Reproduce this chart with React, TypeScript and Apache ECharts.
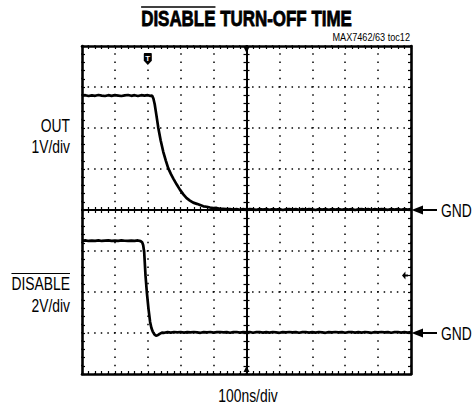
import React, { useEffect, useRef } from "react";
import * as echarts from "echarts";

// ---------- text ----------
const titleText = "DISABLE TURN-OFF TIME";
const overlinedWord = "DISABLE";
const partLabel = "MAX7462/63 toc12";
const timeScaleLabel = "100ns/div";
const outLabels = ["OUT", "1V/div"];
const disableLabels = ["DISABLE", "2V/div"];
const gndLabel = "GND";

// ---------- scales ----------
const timeMin = -500; // ns, 100 ns/div, 10 div
const timeMax = 500;
const timeStep = 100;
const outMin = -4; // V, 1 V/div, 8 div
const outMax = 4;
const outStep = 1;
const disMin = -2; // V, 2 V/div, 8 div
const disMax = 14;
const disStep = 2;

const triggerTime = -300; // ns
const triggerMarkLevel = 3.68; // V on OUT scale (marker near top)
const disableTrigLevel = 2.8; // V on DISABLE scale

// ---------- traces: [time ns, volts] ----------
const outTrace: [number, number][] = [
  [-500, 2.79], [-490, 2.8], [-480, 2.78], [-470, 2.795], [-460, 2.785], [-450, 2.805], [-440, 2.79],
  [-430, 2.78], [-420, 2.8], [-410, 2.785], [-400, 2.8], [-390, 2.79], [-380, 2.78], [-370, 2.795],
  [-360, 2.805], [-350, 2.785], [-340, 2.8], [-330, 2.78], [-320, 2.8], [-310, 2.79], [-300, 2.8],
  [-292, 2.785], [-287, 2.79],
  [-283, 2.72], [-279, 2.58], [-274, 2.32], [-268, 2.0], [-261, 1.7], [-253, 1.42], [-245, 1.2],
  [-238, 1.02], [-230, 0.88], [-222, 0.76], [-212, 0.62], [-202, 0.49], [-192, 0.38], [-182, 0.29],
  [-172, 0.23], [-162, 0.18], [-151, 0.15], [-141, 0.12], [-131, 0.09], [-121, 0.08], [-111, 0.06],
  [-101, 0.045], [-91, 0.05], [-81, 0.03], [-71, 0.03], [-61, 0.02],
  [-50, 0.025], [-40, 0.01], [-30, 0.02], [-20, 0.005], [-10, 0.02], [0, 0.01], [10, 0.025], [20, 0.015],
  [30, 0.005], [40, 0.02], [50, 0.01], [60, 0.025], [70, 0.005], [80, 0.02], [90, 0.01], [100, 0.02],
  [110, 0.0], [120, 0.015], [130, 0.025], [140, 0.01], [150, 0.02], [160, 0.005], [170, 0.02],
  [180, 0.01], [190, 0.025], [200, 0.015], [210, 0.0], [220, 0.02], [230, 0.01], [240, 0.025],
  [250, 0.005], [260, 0.02], [270, 0.01], [280, 0.02], [290, 0.005], [300, 0.025], [310, 0.01],
  [320, 0.02], [330, 0.0], [340, 0.015], [350, 0.025], [360, 0.01], [370, 0.02], [380, 0.005],
  [390, 0.02], [400, 0.01], [410, 0.025], [420, 0.015], [430, 0.005], [440, 0.02], [450, 0.01],
  [460, 0.025], [470, 0.005], [480, 0.02], [490, 0.01], [500, 0.02],
];

const disableTrace: [number, number][] = [
  [-500, 4.5], [-490, 4.52], [-480, 4.49], [-470, 4.51], [-460, 4.495], [-450, 4.52], [-440, 4.49],
  [-430, 4.505], [-420, 4.52], [-410, 4.495], [-400, 4.51], [-390, 4.49], [-380, 4.515], [-370, 4.5],
  [-360, 4.49], [-350, 4.51], [-340, 4.495], [-330, 4.515], [-322, 4.48], [-317, 4.42], [-314, 4.28],
  [-311, 3.95], [-307, 2.81], [-303, 2.0], [-298, 1.19], [-293, 0.54], [-289, 0.24], [-285, 0.07],
  [-280, -0.07], [-275, -0.13], [-270, -0.11], [-264, -0.04], [-257, 0.02], [-250, 0.01],
  [-240, 0.04], [-230, 0.02], [-220, 0.05], [-210, 0.03], [-200, 0.05], [-190, 0.02], [-180, 0.04],
  [-170, 0.03], [-160, 0.05], [-150, 0.03], [-140, 0.01], [-130, 0.04], [-120, 0.03], [-110, 0.05],
  [-100, 0.02], [-90, 0.04], [-80, 0.05], [-70, 0.03], [-60, 0.04], [-50, 0.01], [-40, 0.04],
  [-30, 0.05], [-20, 0.02], [-10, 0.04], [0, 0.03], [10, 0.05], [20, 0.01], [30, 0.04], [40, 0.05],
  [50, 0.02], [60, 0.04], [70, 0.02], [80, 0.05], [90, 0.03], [100, 0.01], [110, 0.04], [120, 0.03],
  [130, 0.05], [140, 0.03], [150, 0.04], [160, 0.01], [170, 0.04], [180, 0.05], [190, 0.02],
  [200, 0.04], [210, 0.02], [220, 0.05], [230, 0.03], [240, 0.01], [250, 0.04], [260, 0.03],
  [270, 0.05], [280, 0.03], [290, 0.04], [300, 0.01], [310, 0.04], [320, 0.05], [330, 0.02],
  [340, 0.04], [350, 0.02], [360, 0.05], [370, 0.03], [380, 0.01], [390, 0.04], [400, 0.03],
  [410, 0.05], [420, 0.03], [430, 0.04], [440, 0.01], [450, 0.04], [460, 0.05], [470, 0.02],
  [480, 0.04], [490, 0.02], [500, 0.04],
];

// ---------- layout ----------
const W = 474;
const H = 406;
const gridLeft = 82;
const gridTop = 46;
const gridW = 329;
const gridH = 328;
const FONT = '"Liberation Sans", Arial, Helvetica, sans-serif';
const CONDENSE = 0.77;

function textWidth(text: string, font: string): number {
  const ctx = document.createElement("canvas").getContext("2d");
  if (!ctx) return text.length * 9;
  ctx.font = font;
  return ctx.measureText(text).width;
}

export default function App() {
  const ref = useRef<HTMLDivElement>(null);

  useEffect(() => {
    if (!ref.current) return;
    const chart = echarts.init(ref.current, undefined, { renderer: "svg" });

    const black = "#000";
    const borderLine = { show: true, onZero: false, lineStyle: { color: black, width: 2.6 } };
    const tickStyle = { color: black, width: 1.2 };
    const gridRect = { left: gridLeft, top: gridTop, width: gridW, height: gridH, containLabel: false };

    const xBase = (gridIndex: number) => ({
      gridIndex,
      type: "value" as const,
      min: timeMin,
      max: timeMax,
      interval: timeStep,
      axisLabel: { show: false },
      splitLine: { show: false },
    });
    const yOutBase = (gridIndex: number) => ({
      gridIndex,
      type: "value" as const,
      min: outMin,
      max: outMax,
      interval: outStep,
      axisLabel: { show: false },
      splitLine: { show: false },
    });

    const centerX = (gridIndex: number, inside: boolean) => ({
      ...xBase(gridIndex),
      position: "bottom",
      axisLine: { show: true, onZero: true, lineStyle: { color: black, width: 1.8 } },
      axisTick: { show: true, inside, length: 3, lineStyle: tickStyle },
      minorTick: { show: true, splitNumber: 5, length: 3, lineStyle: tickStyle },
    });
    const centerY = (gridIndex: number, inside: boolean) => ({
      ...yOutBase(gridIndex),
      position: "left",
      axisLine: { show: true, onZero: true, lineStyle: { color: black, width: 1.8 } },
      axisTick: { show: true, inside, length: 3, lineStyle: tickStyle },
      minorTick: { show: true, splitNumber: 5, length: 3, lineStyle: tickStyle },
    });

    // fonts and metrics (condensed via horizontal scale)
    const titleFont = `bold 22px ${FONT}`;
    const titleW = textWidth(titleText, titleFont) * CONDENSE;
    const titleWordW = textWidth(overlinedWord, titleFont) * CONDENSE;
    const titleCx = gridLeft + gridW / 2;
    const labelFont = `18px ${FONT}`;
    const disLabelW = textWidth(disableLabels[0], labelFont) * CONDENSE;
    const labelRight = 70;

    const txt = (
      text: string,
      x: number,
      y: number,
      font: string,
      align: string,
      scale = CONDENSE,
      strokeW = 0
    ) => ({
      type: "text",
      x,
      y,
      scaleX: scale,
      style: {
        text,
        font,
        fill: black,
        align,
        verticalAlign: "middle",
        stroke: strokeW > 0 ? black : "none",
        lineWidth: strokeW,
      },
    });

    const gndOutY = gridTop + (gridH * (outMax - 0)) / (outMax - outMin);
    const gndDisY = gridTop + (gridH * (disMax - 0)) / (disMax - disMin);
    const gx = gridLeft + gridW;

    const arrow = (y: number) => [
      {
        type: "polygon",
        shape: { points: [[gx + 0.5, y], [gx + 12, y - 4.5], [gx + 12, y + 4.5]] },
        style: { fill: black },
      },
      {
        type: "line",
        shape: { x1: gx + 11, y1: y, x2: gx + 26, y2: y },
        style: { stroke: black, lineWidth: 2 },
      },
      txt(gndLabel, gx + 30, y + 0.5, labelFont, "left"),
    ];

    const option: any = {
      animation: false,
      backgroundColor: "#fff",
      grid: [gridRect, gridRect, gridRect],
      xAxis: [
        {
          ...xBase(0),
          position: "bottom",
          axisLine: borderLine,
          axisTick: { show: true, inside: true, length: 3, lineStyle: tickStyle },
          minorTick: { show: true, splitNumber: 5, length: 3, lineStyle: tickStyle },
          splitLine: {
            show: true,
            lineStyle: { color: black, width: 1.5, type: [1.5, 6.7], dashOffset: 0.75 },
          },
        },
        {
          ...xBase(0),
          position: "top",
          axisLine: borderLine,
          axisTick: { show: true, inside: true, length: 3, lineStyle: tickStyle },
          minorTick: { show: true, splitNumber: 5, length: 3, lineStyle: tickStyle },
        },
        centerX(1, false),
        centerX(2, true),
      ],
      yAxis: [
        {
          ...yOutBase(0),
          position: "left",
          axisLine: borderLine,
          axisTick: { show: true, inside: true, length: 3, lineStyle: tickStyle },
          minorTick: { show: true, splitNumber: 5, length: 3, lineStyle: tickStyle },
          splitLine: {
            show: true,
            lineStyle: { color: black, width: 1.5, type: [1.5, 5.08], dashOffset: 0.75 },
          },
        },
        {
          gridIndex: 0,
          type: "value",
          min: disMin,
          max: disMax,
          interval: disStep,
          position: "right",
          axisLine: borderLine,
          axisLabel: { show: false },
          splitLine: { show: false },
          axisTick: { show: true, inside: true, length: 3, lineStyle: tickStyle },
          minorTick: { show: true, splitNumber: 5, length: 3, lineStyle: tickStyle },
        },
        centerY(1, false),
        centerY(2, true),
      ],
      series: [
        {
          name: "OUT",
          type: "line",
          xAxisIndex: 0,
          yAxisIndex: 0,
          data: outTrace,
          symbol: "none",
          lineStyle: { color: black, width: 2.7 },
          z: 5,
          markPoint: {
            silent: true,
            animation: false,
            data: [
              {
                coord: [triggerTime, triggerMarkLevel],
                symbol: "path://M1,0H9Q10,0 10,1V9L5,14L0,9V1Q0,0 1,0Z",
                symbolSize: [8, 12],
                itemStyle: { color: black },
                label: {
                  show: true,
                  formatter: "T",
                  position: "inside",
                  color: "#fff",
                  fontSize: 8,
                  fontWeight: "bold",
                  fontFamily: FONT,
                  offset: [0, -1],
                },
              },
              {
                coord: [0, outMax],
                symbol: "triangle",
                symbolRotate: 180,
                symbolSize: [6, 6],
                symbolOffset: [0, 4],
                itemStyle: { color: black },
                label: { show: false },
              },
              {
                coord: [0, outMin],
                symbol: "triangle",
                symbolSize: [6, 6],
                symbolOffset: [0, -5],
                itemStyle: { color: black },
                label: { show: false },
              },
            ],
          },
        },
        {
          name: "DISABLE",
          type: "line",
          xAxisIndex: 0,
          yAxisIndex: 1,
          data: disableTrace,
          symbol: "none",
          lineStyle: { color: black, width: 2.7 },
          z: 5,
          markPoint: {
            silent: true,
            animation: false,
            data: [
              {
                coord: [timeMax, disableTrigLevel],
                symbol: "path://M0,4L4,0V3H7V5H4V8Z",
                symbolSize: [6, 8],
                symbolOffset: [-6, 0],
                itemStyle: { color: black },
                label: { show: false },
              },
            ],
          },
        },
      ],
      graphic: [
        txt(titleText, titleCx, 18, titleFont, "center", CONDENSE, 0.8),
        {
          type: "line",
          shape: { x1: titleCx - titleW / 2, y1: 7, x2: titleCx - titleW / 2 + titleWordW, y2: 7 },
          style: { stroke: black, lineWidth: 1.6 },
        },
        txt(partLabel, gx - 1, 37, `11px ${FONT}`, "right", 0.83),
        txt(outLabels[0], labelRight, 125, labelFont, "right"),
        txt(outLabels[1], labelRight, 146, labelFont, "right"),
        txt(disableLabels[0], labelRight, 283, labelFont, "right"),
        {
          type: "line",
          shape: { x1: labelRight - disLabelW, y1: 273.5, x2: labelRight, y2: 273.5 },
          style: { stroke: black, lineWidth: 1 },
        },
        txt(disableLabels[1], labelRight, 305, labelFont, "right"),
        txt(timeScaleLabel, titleCx + 1.5, 395, labelFont, "center"),
        ...arrow(gndOutY),
        ...arrow(gndDisY),
      ],
    };

    chart.setOption(option);
    return () => chart.dispose();
  }, []);

  return (
    <div
      ref={ref}
      style={{ position: "fixed", left: 0, top: 0, width: W, height: H, background: "#fff" }}
    />
  );
}
